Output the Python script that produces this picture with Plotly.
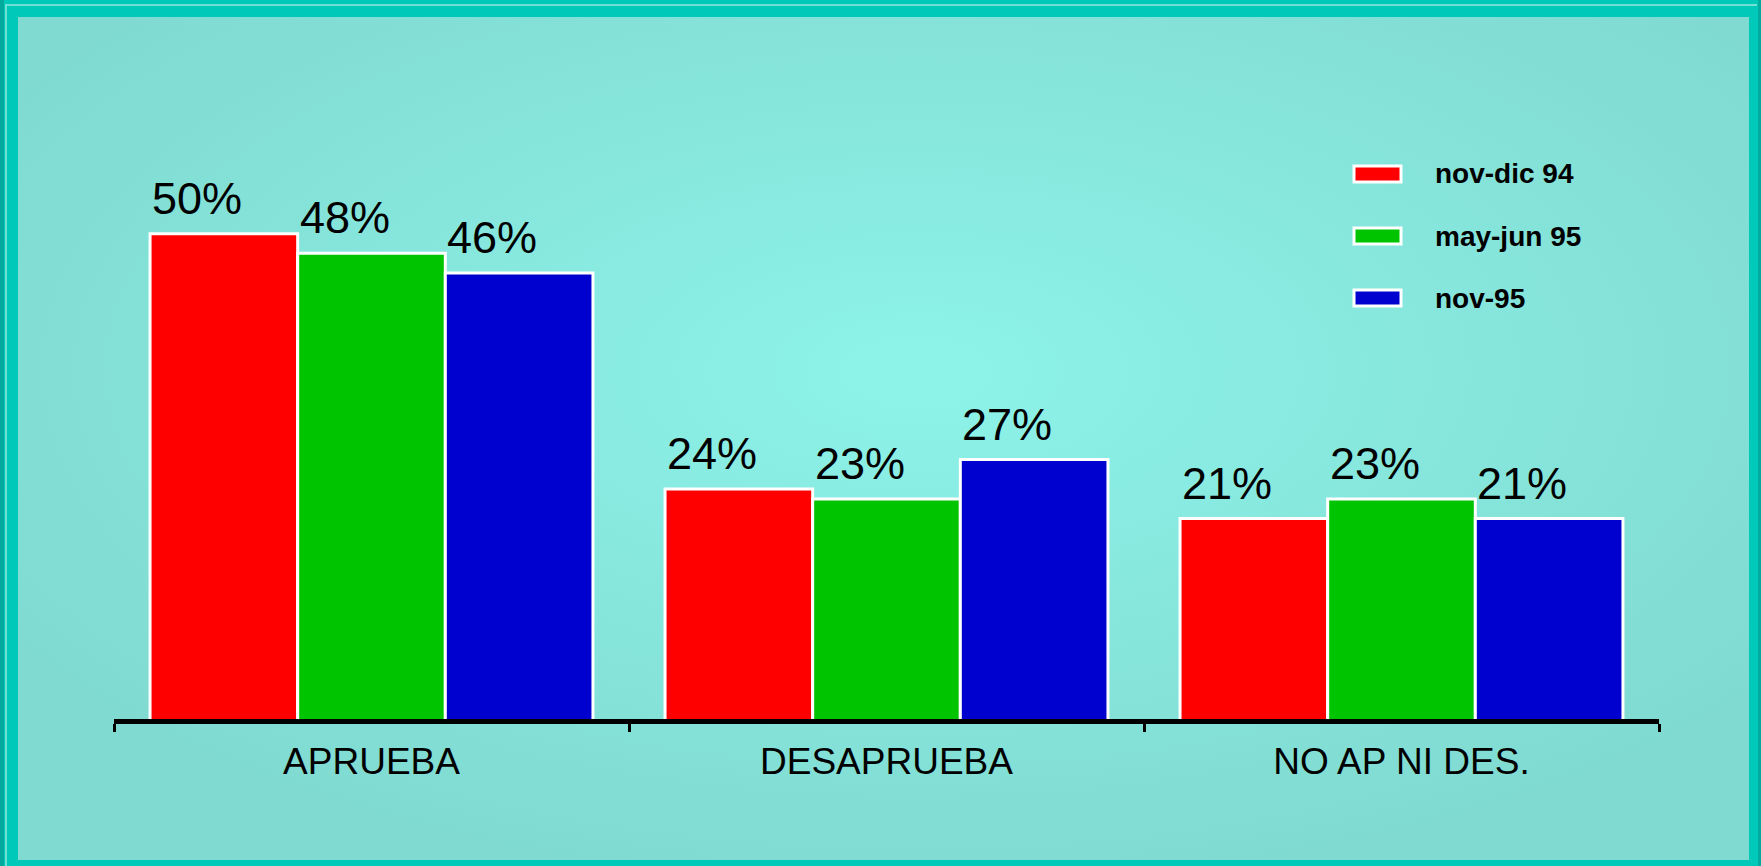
import base64
import plotly.graph_objects as go

categories = ["APRUEBA", "DESAPRUEBA", "NO AP NI DES."]
series_names = ["nov-dic 94", "may-jun 95", "nov-95"]
values = {
    "nov-dic 94": [50, 24, 21],
    "may-jun 95": [48, 23, 23],
    "nov-95": [46, 27, 21],
}
colors = ["#FF0000", "#00C400", "#0000CF"]

W, H = 1761, 866
L, R, T, B = 114, 102, 100, 147
PW, PH = W - L - R, H - T - B


def px(x):
    return (x - L) / PW


def py(y):
    return (H - B - y) / PH


fig = go.Figure()
for name, col in zip(series_names, colors):
    fig.add_trace(
        go.Bar(
            x=categories,
            y=values[name],
            name=name,
            marker=dict(color=col, line=dict(color="white", width=3)),
            showlegend=False,
        )
    )

# value labels, left aligned over each bar
bargap = 0.14
cat_px = PW / len(categories)
bar_px = cat_px * (1 - bargap) / len(series_names)
annotations = []
for i, name in enumerate(series_names):
    left = -cat_px * (1 - bargap) / 2 + i * bar_px
    for cat, v in zip(categories, values[name]):
        annotations.append(
            dict(
                x=cat, y=v, xref="x", yref="y",
                text=f"{v}%", showarrow=False,
                xanchor="left", yanchor="bottom",
                xshift=left, yshift=8,
                font=dict(family="Liberation Sans, Arial", size=45, color="black"),
            )
        )

# legend drawn by hand
shapes = []
for i, (name, col) in enumerate(zip(series_names, colors)):
    cy = 174 + i * 62
    shapes.append(
        dict(type="rect", xref="paper", yref="paper",
             x0=px(1354), x1=px(1401), y0=py(cy - 8), y1=py(cy + 8),
             fillcolor=col, line=dict(color="white", width=3))
    )
    annotations.append(
        dict(x=px(1433), y=py(cy), xref="paper", yref="paper",
             text=name, showarrow=False, xanchor="left", yanchor="middle",
             font=dict(family="Liberation Sans, Arial", size=28, color="black", weight="bold"))
    )

# frame lines
shapes += [
    dict(type="line", xref="paper", yref="paper", x0=px(6), x1=px(6), y0=py(4), y1=py(H),
         line=dict(color="#6FE0D4", width=2), layer="below"),
    dict(type="line", xref="paper", yref="paper", x0=px(5), x1=px(1757), y0=py(5), y1=py(5),
         line=dict(color="#6FE0D4", width=2), layer="below"),
    dict(type="line", xref="paper", yref="paper", x0=px(2), x1=px(2), y0=py(0), y1=py(H),
         line=dict(color="#00AA9C", width=4), layer="below"),
    dict(type="line", xref="paper", yref="paper", x0=px(1759.5), x1=px(1759.5), y0=py(0), y1=py(H),
         line=dict(color="#00AA9C", width=3), layer="below"),
]

svg = (
    "<svg xmlns='http://www.w3.org/2000/svg' width='1731' height='843' preserveAspectRatio='none'>"
    "<defs><radialGradient id='g' cx='52%' cy='42%' r='62%'>"
    "<stop offset='0' stop-color='#8DF3E9'/><stop offset='1' stop-color='#80DAD1'/>"
    "</radialGradient></defs><rect width='100%' height='100%' fill='url(#g)'/></svg>"
)
bg_src = "data:image/svg+xml;base64," + base64.b64encode(svg.encode()).decode()

fig.update_layout(
    width=W, height=H,
    margin=dict(l=L, r=R, t=T, b=B),
    barmode="group", bargap=bargap, bargroupgap=0,
    paper_bgcolor="#00C9B9", plot_bgcolor="rgba(0,0,0,0)",
    showlegend=False,
    annotations=annotations,
    shapes=shapes,
    images=[dict(source=bg_src, xref="paper", yref="paper",
                 x=px(18), y=py(17), sizex=px(1749) - px(18), sizey=py(17) - py(860),
                 xanchor="left", yanchor="top", sizing="stretch", layer="below")],
    xaxis=dict(
        showline=True, linecolor="black", linewidth=5,
        ticks="outside", tickson="boundaries", ticklen=8, tickwidth=3, tickcolor="black",
        tickfont=dict(family="Liberation Sans, Arial", size=37, color="black"),
        showgrid=False, ticklabelstandoff=6,
    ),
    yaxis=dict(range=[0.6, 63.6], visible=False, showgrid=False),
)

fig.write_html(
    "out.html",
    config={"displayModeBar": False},
    post_script="document.body.style.margin='0';document.body.style.overflow='hidden';",
)
